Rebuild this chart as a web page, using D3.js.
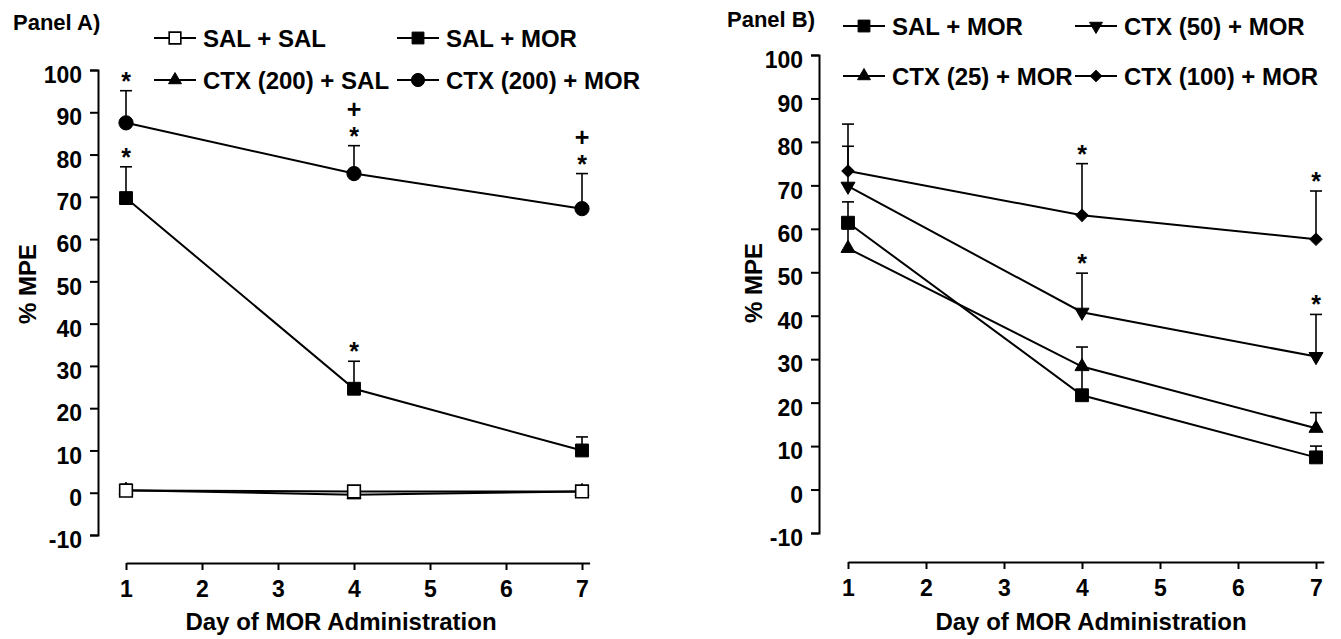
<!DOCTYPE html>
<html>
<head>
<meta charset="utf-8">
<script src="https://cdn.jsdelivr.net/npm/d3@7"></script>
<style>
  body { margin: 0; background: #fff; }
  text { font-family: "Liberation Sans", Arial, sans-serif; font-weight: bold; fill: #000; }
</style>
</head>
<body>
<script>
// ---- data ----
const days = [1, 4, 7];
const dayTicks = [1, 2, 3, 4, 5, 6, 7];
const mpeTicks = [-10, 0, 10, 20, 30, 40, 50, 60, 70, 80, 90, 100];

// Panel A
const salSal = [0.5, 0.3, 0.3];
const salSalErr = [1.5, 0.4, 0.4];
const salMorA = [69.7, 24.6, 10.0];
const salMorAErr = [7.4, 6.5, 3.2];
const ctx200Sal = [0.6, -0.5, 0.3];
const ctx200SalErr = [0.5, 0.5, 0.3];
const ctx200Mor = [87.5, 75.5, 67.2];
const ctx200MorErr = [7.6, 6.6, 8.3];

// Panel B
const salMorB = [61.4, 21.7, 7.4];
const salMorBErr = [4.8, 6.0, 2.6];
const ctx25Mor = [55.5, 28.3, 14.1];
const ctx25MorErr = [4.5, 4.5, 3.6];
const ctx50Mor = [69.8, 40.8, 30.6];
const ctx50MorErr = [9.2, 9.0, 9.7];
const ctx100Mor = [73.3, 63.1, 57.6];
const ctx100MorErr = [10.8, 11.9, 11.1];

// significance marks: [series, day, marks from bottom to top]
const marksA = [
  ["CTX (200) + MOR", 1, ["*"]],
  ["CTX (200) + MOR", 4, ["*", "+"]],
  ["CTX (200) + MOR", 7, ["*", "+"]],
  ["SAL + MOR", 1, ["*"]],
  ["SAL + MOR", 4, ["*"]]
];
const marksB = [
  ["CTX (100) + MOR", 4, ["*"]],
  ["CTX (100) + MOR", 7, ["*"]],
  ["CTX (50) + MOR", 4, ["*"]],
  ["CTX (50) + MOR", 7, ["*"]]
];

// ---- shapes ----
const shapes = {
  openSquare: {type: d3.symbolSquare, size: 160, rot: 0, fill: "#fff"},
  square: {type: d3.symbolSquare, size: 165, rot: 0, fill: "#000"},
  triangle: {type: d3.symbolTriangle, size: 85, rot: 0, fill: "#000"},
  triangleDown: {type: d3.symbolTriangle, size: 85, rot: 180, fill: "#000"},
  circle: {type: d3.symbolCircle, size: 160, rot: 0, fill: "#000"},
  diamond: {type: d3.symbolSquare, size: 75, rot: 45, fill: "#000"}
};

const panels = [
  {
    label: "Panel A)", labelX: 13, labelY: 30,
    axisX: 98, yTop: 70, yBottom: 535, x0: 126, step: 76, xAxisY: 563,
    yTitleX: 27, yTitleY: 284, xTitleX: 341,
    legendCols: [154, 397], legendRows: [38, 80],
    series: [
      {name: "CTX (200) + SAL", values: ctx200Sal, err: ctx200SalErr, shape: "triangle", cell: [0, 1]},
      {name: "SAL + SAL", values: salSal, err: salSalErr, shape: "openSquare", cell: [0, 0]},
      {name: "SAL + MOR", values: salMorA, err: salMorAErr, shape: "square", cell: [1, 0]},
      {name: "CTX (200) + MOR", values: ctx200Mor, err: ctx200MorErr, shape: "circle", cell: [1, 1]}
    ],
    marks: marksA
  },
  {
    label: "Panel B)", labelX: 727, labelY: 27,
    axisX: 819, yTop: 55, yBottom: 533, x0: 848, step: 78, xAxisY: 562,
    yTitleX: 753, yTitleY: 283, xTitleX: 1091,
    legendCols: [843, 1075], legendRows: [26, 76],
    series: [
      {name: "SAL + MOR", values: salMorB, err: salMorBErr, shape: "square", cell: [0, 0]},
      {name: "CTX (25) + MOR", values: ctx25Mor, err: ctx25MorErr, shape: "triangle", cell: [0, 1]},
      {name: "CTX (50) + MOR", values: ctx50Mor, err: ctx50MorErr, shape: "triangleDown", cell: [1, 0]},
      {name: "CTX (100) + MOR", values: ctx100Mor, err: ctx100MorErr, shape: "diamond", cell: [1, 1]}
    ],
    marks: marksB
  }
];

const svg = d3.select("body").append("svg")
  .attr("width", 1341)
  .attr("height", 639);

function drawMarker(g, key, cx, cy, scale = 1) {
  const s = shapes[key];
  g.append("path")
    .attr("d", d3.symbol().type(s.type).size(s.size * scale)())
    .attr("transform", `translate(${cx},${cy}) rotate(${s.rot})`)
    .attr("fill", s.fill)
    .attr("stroke", "#000")
    .attr("stroke-width", key === "openSquare" ? 1.6 : 1);
}

panels.forEach(p => {
  const g = svg.append("g");

  const x = d3.scaleLinear().domain([1, 7.1]).range([p.x0, p.x0 + 6.1 * p.step]);
  const y = d3.scaleLinear().domain([-10, 100]).range([p.yBottom, p.yTop]);

  // axes
  const yAxis = g.append("g")
    .attr("transform", `translate(${p.axisX},0)`)
    .call(d3.axisLeft(y).tickValues(mpeTicks).tickSize(8).tickPadding(8).tickFormat(d => String(d)));
  const xAxis = g.append("g")
    .attr("transform", `translate(0,${p.xAxisY})`)
    .call(d3.axisBottom(x).tickValues(dayTicks).tickSize(7).tickSizeOuter(0).tickPadding(11).tickFormat(d => String(d)));

  [yAxis, xAxis].forEach(a => {
    a.selectAll("path, line").attr("stroke", "#000").attr("stroke-width", 2);
    a.selectAll("text").attr("font-size", 23).attr("font-family", null).attr("fill", "#000");
  });
  yAxis.selectAll("text").attr("dy", "0.55em");

  g.append("text")
    .attr("transform", `translate(${p.yTitleX},${p.yTitleY}) rotate(-90)`)
    .attr("text-anchor", "middle")
    .attr("dy", "0.36em")
    .attr("font-size", 24)
    .text("% MPE");

  g.append("text")
    .attr("x", p.xTitleX)
    .attr("y", 630)
    .attr("text-anchor", "middle")
    .attr("font-size", 24)
    .text("Day of MOR Administration");

  g.append("text")
    .attr("x", p.labelX)
    .attr("y", p.labelY)
    .attr("font-size", 22)
    .text(p.label);

  const line = d3.line().x((d, i) => x(days[i])).y(d => y(d));

  // error bars (upper half)
  p.series.forEach(s => {
    s.values.forEach((v, i) => {
      const cx = x(days[i]);
      const top = y(v + s.err[i]);
      g.append("line").attr("x1", cx).attr("x2", cx).attr("y1", y(v)).attr("y2", top)
        .attr("stroke", "#000").attr("stroke-width", 1.6);
      g.append("line").attr("x1", cx - 6).attr("x2", cx + 6).attr("y1", top).attr("y2", top)
        .attr("stroke", "#000").attr("stroke-width", 1.6);
    });
  });

  p.series.forEach(s => {
    g.append("path")
      .datum(s.values)
      .attr("d", line)
      .attr("fill", "none")
      .attr("stroke", "#000")
      .attr("stroke-width", 2);
  });

  p.series.forEach(s => {
    s.values.forEach((v, i) => drawMarker(g, s.shape, x(days[i]), y(v)));
  });

  // significance marks
  p.marks.forEach(([name, day, list]) => {
    const s = p.series.find(d => d.name === name);
    const i = days.indexOf(day);
    const top = y(s.values[i] + s.err[i]);
    list.forEach(m => {
      g.append("text")
        .attr("x", x(day))
        .attr("y", m === "*" ? top - 1 : top - 28)
        .attr("text-anchor", "middle")
        .attr("font-size", 25)
        .text(m);
    });
  });

  // legend
  p.series.forEach(s => {
    const lx = p.legendCols[s.cell[0]];
    const ly = p.legendRows[s.cell[1]];
    const lg = g.append("g").attr("transform", `translate(${lx},${ly})`);
    lg.append("line").attr("x1", 0).attr("x2", 42).attr("y1", 0).attr("y2", 0)
      .attr("stroke", "#000").attr("stroke-width", 2);
    drawMarker(lg, s.shape, 21, 0, 0.85);
    lg.append("text")
      .attr("x", 49)
      .attr("y", 9)
      .attr("font-size", 24)
      .text(s.name);
  });
});
</script>
</body>
</html>
